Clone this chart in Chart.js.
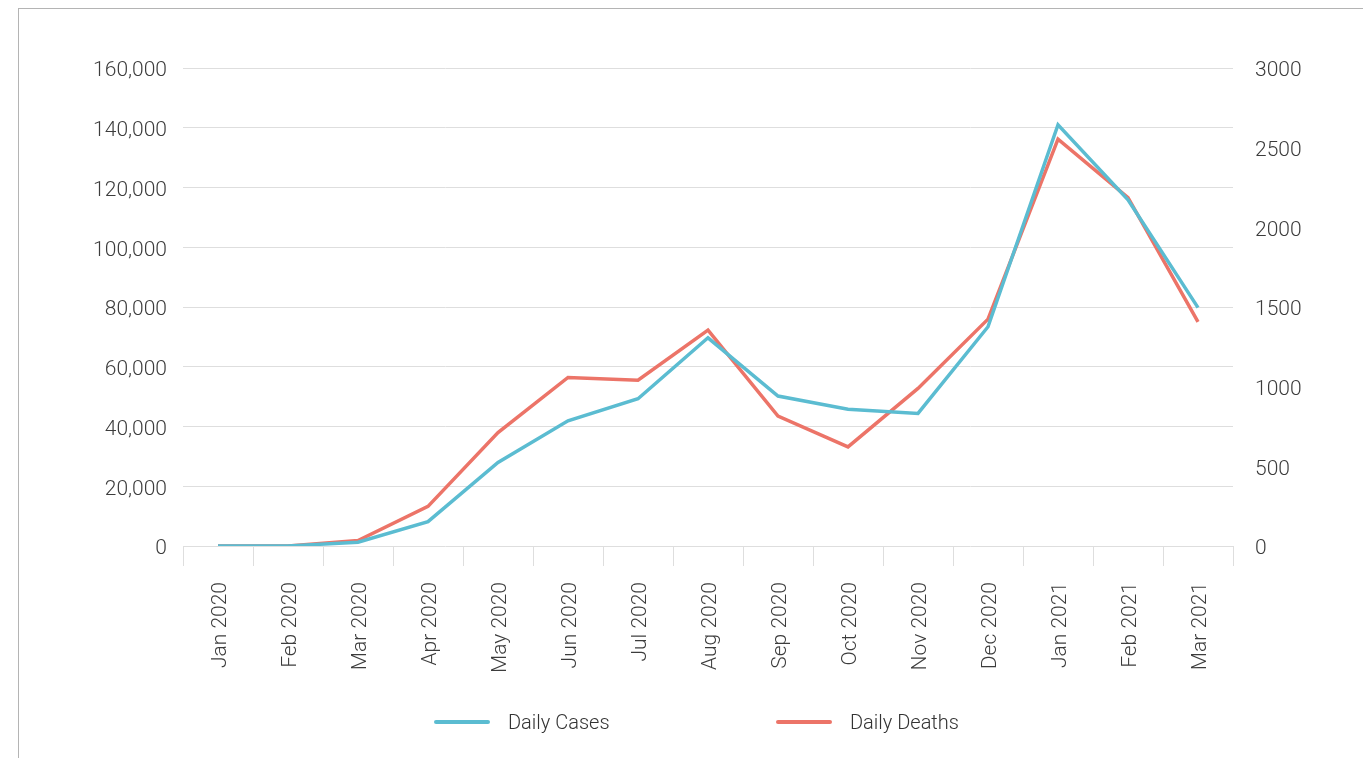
<!DOCTYPE html>
<html>
<head>
<meta charset="utf-8">
<script src="https://cdn.jsdelivr.net/npm/chart.js@4.4.1/dist/chart.umd.min.js"></script>
<style>
  html, body { margin: 0; padding: 0; background: #fff; }
  body { width: 1363px; height: 758px; position: relative; overflow: hidden; font-family: Roboto, sans-serif; }
  #frame { position: absolute; left: 18px; top: 8px; right: -2px; bottom: -2px; border-top: 1px solid #b4b4b4; border-left: 1px solid #b4b4b4; }
  #wrap { position: absolute; left: 0; top: 0; width: 1363px; height: 758px; }
  .leg { position: absolute; top: 710px; height: 24px; display: flex; align-items: center; font-size: 20px; font-weight: 300; color: #333; }
  .leg span.sw { display: inline-block; width: 56px; height: 4px; border-radius: 2px; margin-right: 18px; }
</style>
</head>
<body>
<div id="frame"></div>
<div id="wrap"><canvas id="covidChart"></canvas></div>
<div id="legend"></div>
<script>
// months on x axis
const months = ['Jan 2020', 'Feb 2020', 'Mar 2020', 'Apr 2020', 'May 2020', 'Jun 2020', 'Jul 2020',
  'Aug 2020', 'Sep 2020', 'Oct 2020', 'Nov 2020', 'Dec 2020', 'Jan 2021', 'Feb 2021', 'Mar 2021'];

// left axis
const dailyCases = [0, 0, 1300, 8150, 28000, 41900, 49300, 69700, 50200, 45800, 44400, 73400, 141000, 115900, 79800];
// right axis
const dailyDeaths = [0, 0, 35, 249, 712, 1058, 1041, 1355, 816, 622, 989, 1424, 2554, 2187, 1407];

const seriesNames = ['Daily Cases', 'Daily Deaths'];
const blue = '#5bbcd1';
const red = '#ec7468';
const gridColor = '#dedede';
const textColor = '#3c3c3c';

const tickFont = { family: 'Roboto', size: 21, weight: 300 };

const ctx = document.getElementById('covidChart');

new Chart(ctx, {
  type: 'line',
  data: {
    labels: months,
    datasets: [
      {
        label: seriesNames[0],
        data: dailyCases,
        borderColor: blue,
        backgroundColor: blue,
        borderWidth: 3.5,
        pointRadius: 0,
        tension: 0,
        yAxisID: 'y'
      },
      {
        label: seriesNames[1],
        data: dailyDeaths,
        borderColor: red,
        backgroundColor: red,
        borderWidth: 3.5,
        pointRadius: 0,
        tension: 0,
        yAxisID: 'y1'
      }
    ]
  },
  options: {
    responsive: true,
    maintainAspectRatio: false,
    animation: false,
    layout: {
      padding: { top: 68, bottom: 69, left: 0, right: 0 }
    },
    scales: {
      x: {
        offset: true,
        grid: {
          display: true,
          offset: true,
          drawOnChartArea: false,
          drawTicks: true,
          tickLength: 20,
          color: gridColor
        },
        border: { display: false },
        ticks: {
          color: textColor,
          font: tickFont,
          minRotation: 90,
          maxRotation: 90,
          padding: 16,
          labelOffset: 3,
          autoSkip: false
        }
      },
      y: {
        position: 'left',
        min: 0,
        max: 160000,
        afterFit(scale) { scale.width = 183; },
        grid: { color: gridColor, drawTicks: false, lineWidth: 1 },
        border: { display: false },
        ticks: {
          stepSize: 20000,
          color: textColor,
          font: tickFont,
          padding: 16,
          labelOffset: 3
        }
      },
      y1: {
        position: 'right',
        min: 0,
        max: 3000,
        afterFit(scale) { scale.width = 130; },
        grid: { drawOnChartArea: false, drawTicks: false },
        border: { display: false },
        ticks: {
          stepSize: 500,
          color: textColor,
          font: tickFont,
          padding: 22,
          labelOffset: 3,
          callback: v => String(v)
        }
      }
    },
    plugins: {
      legend: { display: false },
      tooltip: { enabled: false }
    }
  }
});

// legend below the chart
const legend = document.getElementById('legend');
const legendX = [434, 776];
[blue, red].forEach((c, i) => {
  const item = document.createElement('div');
  item.className = 'leg';
  item.style.left = legendX[i] + 'px';
  item.innerHTML = '<span class="sw" style="background:' + c + '"></span>' + seriesNames[i];
  legend.appendChild(item);
});
</script>
</body>
</html>
